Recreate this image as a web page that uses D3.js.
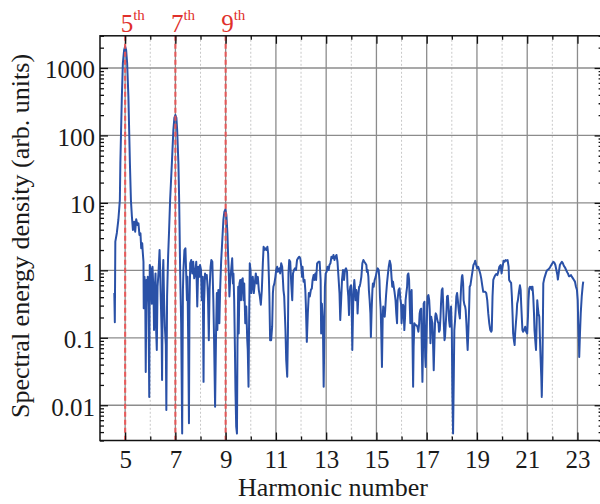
<!DOCTYPE html>
<html>
<head>
<meta charset="utf-8">
<script src="https://cdn.jsdelivr.net/npm/d3@7"></script>
<style>
  html, body { margin: 0; padding: 0; background: #fff; }
  svg { display: block; }
  text { font-family: "Liberation Serif", "Times New Roman", serif; }
</style>
</head>
<body>
<div id="chart"></div>
<script>
// spectrum: harmonic number vs spectral energy density
const harmonic = [
  4.57,4.59,4.61,4.67,4.73,4.79,4.81,4.84,4.87,4.91,
  4.96,5.00,5.04,5.08,5.13,5.16,5.19,5.23,5.27,5.31,
  5.36,5.40,5.44,5.49,5.53,5.57,5.61,5.64,5.68,5.70,
  5.73,5.74,5.77,5.80,5.82,5.85,5.88,5.90,5.93,5.96,
  5.98,6.02,6.06,6.09,6.13,6.15,6.18,6.21,6.23,6.26,
  6.29,6.33,6.37,6.39,6.42,6.45,6.47,6.50,6.52,6.55,
  6.58,6.62,6.64,6.67,6.71,6.75,6.79,6.86,6.92,6.96,
  7.00,7.04,7.07,7.12,7.15,7.17,7.19,7.23,7.27,7.30,
  7.32,7.36,7.40,7.43,7.46,7.48,7.51,7.54,7.56,7.59,
  7.63,7.67,7.71,7.75,7.79,7.83,7.87,7.91,7.95,7.98,
  8.02,8.05,8.09,8.12,8.14,8.18,8.22,8.25,8.28,8.30,
  8.33,8.36,8.40,8.43,8.47,8.51,8.54,8.58,8.62,8.65,
  8.67,8.71,8.75,8.78,8.82,8.86,8.91,8.95,8.99,9.03,
  9.07,9.10,9.13,9.15,9.18,9.22,9.26,9.29,9.31,9.34,
  9.37,9.39,9.42,9.45,9.47,9.50,9.52,9.55,9.58,9.61,
  9.64,9.68,9.71,9.74,9.78,9.82,9.86,9.88,9.91,9.93,
  9.96,9.99,10.02,10.05,10.08,10.12,10.16,10.20,10.24,10.28,
  10.32,10.36,10.40,10.44,10.48,10.51,10.54,10.58,10.62,10.66,
  10.69,10.72,10.74,10.77,10.81,10.85,10.88,10.90,10.94,10.98,
  11.01,11.05,11.08,11.12,11.14,11.17,11.21,11.25,11.28,11.30,
  11.33,11.36,11.38,11.41,11.45,11.48,11.50,11.53,11.57,11.61,
  11.65,11.68,11.72,11.76,11.80,11.84,11.88,11.93,11.97,12.01,
  12.04,12.06,12.10,12.14,12.17,12.19,12.23,12.27,12.31,12.35,
  12.39,12.43,12.46,12.50,12.53,12.57,12.60,12.64,12.70,12.74,
  12.78,12.80,12.83,12.87,12.90,12.92,12.95,12.98,13.02,13.05,
  13.10,13.13,13.17,13.21,13.25,13.29,13.33,13.37,13.41,13.45,
  13.49,13.53,13.56,13.59,13.63,13.67,13.71,13.75,13.79,13.83,
  13.85,13.88,13.91,13.93,13.96,13.99,14.01,14.04,14.07,14.09,
  14.12,14.15,14.17,14.20,14.23,14.25,14.28,14.31,14.33,14.36,
  14.40,14.44,14.48,14.52,14.56,14.60,14.62,14.65,14.68,14.70,
  14.73,14.76,14.78,14.81,14.84,14.86,14.89,14.93,14.97,15.01,
  15.05,15.09,15.12,15.14,15.17,15.19,15.22,15.25,15.27,15.30,
  15.33,15.35,15.38,15.42,15.46,15.49,15.53,15.57,15.60,15.63,
  15.66,15.68,15.72,15.76,15.79,15.82,15.84,15.88,15.92,15.95,
  15.98,16.00,16.03,16.06,16.08,16.11,16.14,16.16,16.19,16.22,
  16.24,16.27,16.30,16.32,16.35,16.38,16.40,16.43,16.46,16.48,
  16.51,16.55,16.59,16.63,16.67,16.70,16.72,16.75,16.78,16.80,
  16.83,16.86,16.88,16.91,16.94,16.96,16.99,17.02,17.04,17.07,
  17.10,17.12,17.15,17.18,17.20,17.23,17.26,17.28,17.31,17.34,
  17.36,17.39,17.41,17.44,17.47,17.49,17.52,17.55,17.57,17.60,
  17.63,17.65,17.68,17.71,17.73,17.76,17.79,17.81,17.84,17.87,
  17.89,17.92,17.94,17.97,18.00,18.02,18.05,18.08,18.10,18.13,
  18.16,18.18,18.21,18.24,18.26,18.29,18.32,18.34,18.37,18.40,
  18.42,18.45,18.47,18.50,18.53,18.55,18.58,18.61,18.63,18.66,
  18.69,18.71,18.74,18.78,18.82,18.86,18.90,18.93,18.97,19.01,
  19.05,19.09,19.13,19.17,19.21,19.25,19.29,19.33,19.37,19.41,
  19.45,19.49,19.53,19.57,19.59,19.62,19.65,19.69,19.73,19.77,
  19.81,19.85,19.89,19.94,19.98,20.02,20.06,20.10,20.14,20.18,
  20.22,20.26,20.28,20.32,20.36,20.39,20.42,20.44,20.47,20.50,
  20.52,20.55,20.58,20.60,20.63,20.67,20.71,20.74,20.76,20.79,
  20.81,20.84,20.88,20.92,20.96,21.00,21.03,21.05,21.08,21.11,
  21.13,21.16,21.19,21.21,21.24,21.27,21.29,21.32,21.35,21.37,
  21.40,21.42,21.45,21.48,21.50,21.53,21.56,21.58,21.61,21.64,
  21.68,21.72,21.76,21.80,21.84,21.88,21.92,21.96,22.00,22.04,
  22.08,22.12,22.16,22.20,22.22,22.26,22.30,22.34,22.38,22.42,
  22.46,22.50,22.54,22.58,22.62,22.66,22.70,22.74,22.78,22.82,
  22.86,22.90,22.94,22.98,23.01,23.03,23.06,23.07,23.10,23.13,
  23.17,23.21,23.23
];

const energy = [
  0.46,0.17,2.66,3.58,5.58,11.0,38.7,121,377,1178,
  1850,2080,1850,1180,377,121,38.7,11.0,6.24,3.96,
  5.26,3.74,5.71,4.70,4.98,3.34,3.54,2.12,2.52,1.89,
  1.34,0.273,0.80,0.51,0.031,0.72,0.36,0.80,0.29,0.0133,
  1.20,1.01,0.32,1.13,0.46,0.13,0.51,0.90,0.146,0.066,
  0.57,0.95,2.00,1.13,0.36,0.13,0.0236,0.90,1.42,0.36,
  0.146,0.078,0.0085,0.41,1.59,3.96,11.0,38.7,121,182,
  201,182,121,38.7,11.0,3.34,0.90,0.165,0.0038,0.51,
  1.01,2.00,2.12,0.90,0.36,0.80,0.092,0.0054,0.29,1.27,
  1.42,0.90,1.34,0.76,0.90,1.34,0.29,1.13,0.80,1.20,
  1.01,0.36,0.80,0.0222,0.32,0.90,0.76,0.85,0.57,0.36,
  0.092,0.51,1.13,1.42,1.34,0.36,0.092,0.0095,0.13,0.46,
  0.13,0.51,0.164,0.51,1.34,2.52,5.58,7.40,8.04,6.61,
  3.54,1.59,0.80,0.41,0.72,1.01,1.51,0.64,0.90,0.36,
  0.066,0.0168,0.0048,0.0038,0.073,0.57,0.116,0.64,0.72,0.36,
  0.72,0.76,0.36,0.64,0.164,0.29,0.092,0.066,0.0188,0.13,
  1.27,1.01,0.46,0.64,0.80,0.46,0.64,0.90,0.64,0.80,
  0.51,0.41,0.31,0.51,1.27,2.24,2.00,2.12,2.00,2.24,
  1.79,0.80,0.41,0.092,0.092,0.146,0.46,0.57,0.64,0.80,
  1.01,1.13,0.95,1.01,1.07,0.90,1.27,1.13,0.72,0.51,
  0.41,0.205,0.13,0.047,0.0264,0.13,0.90,1.42,1.34,0.64,
  0.36,0.90,1.01,1.07,1.01,1.42,1.51,1.59,1.51,1.13,
  0.80,1.13,0.68,0.72,0.51,0.32,0.087,0.23,0.46,0.41,
  0.51,0.54,0.72,0.85,0.72,0.90,0.72,1.27,1.34,1.34,
  0.72,0.116,0.32,0.164,0.0188,0.066,0.57,0.90,0.95,1.13,
  1.01,1.20,1.27,1.59,1.51,1.69,1.42,1.59,1.69,1.34,
  0.80,0.46,0.183,0.32,0.72,1.01,0.72,1.01,1.07,0.95,
  0.57,0.41,0.217,0.46,0.57,0.60,0.41,0.066,0.258,0.51,
  0.72,0.51,0.36,0.51,0.41,0.23,0.41,0.57,0.57,0.64,
  0.80,1.27,1.42,1.34,1.27,1.20,0.95,1.01,0.80,0.51,
  0.36,0.23,0.103,0.26,0.51,0.64,0.57,0.72,0.80,0.95,
  1.07,1.01,0.72,0.41,0.26,0.13,0.037,0.205,0.29,0.23,
  0.205,0.26,0.41,0.64,0.90,1.13,1.39,1.20,0.80,0.57,
  0.68,0.60,0.48,0.36,0.23,0.164,0.36,0.51,0.54,0.38,
  0.32,0.164,0.23,0.31,0.29,0.13,0.205,0.36,0.46,0.57,
  0.85,0.90,0.72,0.36,0.164,0.46,0.51,0.13,0.0188,0.073,
  0.164,0.154,0.154,0.146,0.123,0.164,0.23,0.26,0.27,0.092,
  0.0222,0.092,0.32,0.342,0.052,0.037,0.092,0.29,0.41,0.43,
  0.36,0.26,0.083,0.205,0.183,0.164,0.066,0.033,0.092,0.205,
  0.23,0.217,0.194,0.173,0.164,0.123,0.13,0.205,0.32,0.51,
  0.54,0.36,0.164,0.092,0.103,0.164,0.26,0.41,0.42,0.29,
  0.183,0.146,0.205,0.29,0.13,0.0168,0.0038,0.0296,0.13,0.183,
  0.29,0.41,0.46,0.36,0.29,0.23,0.194,0.32,0.57,0.80,
  0.85,0.64,0.36,0.31,0.29,0.26,0.164,0.092,0.066,0.13,
  0.29,0.57,0.60,0.76,0.95,1.20,1.27,1.39,1.20,1.07,
  1.13,1.01,0.90,0.76,0.60,0.48,0.48,0.48,0.46,0.36,
  0.23,0.164,0.13,0.123,0.13,0.41,0.72,0.79,0.85,0.88,
  0.85,0.95,1.13,1.20,0.90,1.13,1.39,1.34,1.42,1.39,
  1.42,1.13,0.72,0.68,0.65,0.41,0.205,0.116,0.092,0.078,
  0.116,0.164,0.23,0.32,0.36,0.48,0.60,0.51,0.32,0.183,
  0.13,0.123,0.13,0.146,0.123,0.116,0.205,0.36,0.54,0.57,
  0.54,0.57,0.51,0.57,0.41,0.23,0.13,0.092,0.066,0.13,
  0.36,0.29,0.23,0.205,0.116,0.052,0.0264,0.0133,0.052,0.64,
  0.76,0.85,0.95,1.01,1.03,1.07,1.13,1.20,1.27,1.34,
  1.30,1.20,1.01,0.85,0.73,0.95,1.20,1.27,1.34,1.27,
  1.16,1.11,1.03,0.95,0.90,0.82,0.82,0.85,0.80,0.76,
  0.72,0.68,0.57,0.51,0.36,0.164,0.083,0.052,0.116,0.23,
  0.41,0.60,0.68
];

const xTicks = [5, 7, 9, 11, 13, 15, 17, 19, 21, 23];
const xMinorTicks = [6, 8, 10, 12, 14, 16, 18, 20, 22];
const yTicks = [0.01, 0.1, 1, 10, 100, 1000];
const markedHarmonics = [5, 7, 9];
const markedLabels = ["5", "7", "9"];

const width = 600;
const height = 504;
const plotLeft = 100, plotRight = 602.6, plotTop = 35.8, plotBottom = 440.5;

const svg = d3.select("#chart")
  .append("svg")
  .attr("width", width)
  .attr("height", height);

const x = d3.scaleLinear().domain([4, 24]).range([plotLeft, plotRight]);
const y = d3.scaleLog().domain([0.003, 3000]).range([plotBottom, plotTop]);

// grid
svg.append("g")
  .selectAll("line")
  .data(xMinorTicks)
  .join("line")
  .attr("x1", d => x(d)).attr("x2", d => x(d))
  .attr("y1", plotTop).attr("y2", plotBottom)
  .attr("stroke", "#c8c8c8")
  .attr("stroke-width", 1)
  .attr("stroke-dasharray", "2,2");

svg.append("g")
  .selectAll("line")
  .data(xTicks)
  .join("line")
  .attr("x1", d => x(d)).attr("x2", d => x(d))
  .attr("y1", plotTop).attr("y2", plotBottom)
  .attr("stroke", "#8c8c8c")
  .attr("stroke-width", 1.3);

svg.append("g")
  .selectAll("line")
  .data(yTicks)
  .join("line")
  .attr("x1", plotLeft).attr("x2", plotRight)
  .attr("y1", d => y(d)).attr("y2", d => y(d))
  .attr("stroke", "#8c8c8c")
  .attr("stroke-width", 1.3);

// spectrum
svg.append("clipPath").attr("id", "plot-clip")
  .append("rect")
  .attr("x", plotLeft).attr("y", plotTop)
  .attr("width", plotRight - plotLeft).attr("height", plotBottom - plotTop);

const line = d3.line()
  .x(d => x(d[0]))
  .y(d => y(d[1]));

svg.append("path")
  .datum(d3.zip(harmonic, energy))
  .attr("clip-path", "url(#plot-clip)")
  .attr("fill", "none")
  .attr("stroke", "#2a51a7")
  .attr("stroke-width", 2)
  .attr("stroke-linejoin", "round")
  .attr("d", line);

// marked harmonics
svg.append("g")
  .selectAll("line")
  .data(markedHarmonics)
  .join("line")
  .attr("x1", d => x(d)).attr("x2", d => x(d))
  .attr("y1", plotTop).attr("y2", plotBottom)
  .attr("stroke", "#f05050")
  .attr("stroke-opacity", 0.85)
  .attr("stroke-width", 2.2)
  .attr("stroke-dasharray", "5,3");

const labels = svg.append("g")
  .selectAll("text")
  .data(markedHarmonics)
  .join("text")
  .attr("x", d => x(d) - 4.5)
  .attr("y", 32)
  .attr("fill", "#e0302c")
  .attr("font-size", 25);
labels.append("tspan").text((d, i) => markedLabels[i]);
labels.append("tspan").attr("dy", -12).attr("font-size", 15).text("th");

// axes, ticks pointing inward on all four sides
function styleAxis(g) {
  g.select(".domain").remove();
  g.selectAll(".tick line").attr("stroke", "#111").attr("stroke-width", 1.3);
  g.selectAll(".tick text")
    .attr("fill", "#1a1a1a")
    .attr("font-size", 25)
    .attr("font-family", "Liberation Serif, Times New Roman, serif");
}

const minorY = y.ticks().filter(d => Math.abs(Math.log10(d) - Math.round(Math.log10(d))) > 1e-6);

svg.append("g")
  .attr("transform", `translate(0,${plotBottom})`)
  .call(d3.axisBottom(x).tickValues(xTicks).tickSize(-8).tickPadding(10).tickFormat(d3.format("d")))
  .call(styleAxis);
svg.append("g")
  .attr("transform", `translate(0,${plotBottom})`)
  .call(d3.axisBottom(x).tickValues(xMinorTicks).tickSize(-4).tickFormat(""))
  .call(styleAxis);
svg.append("g")
  .attr("transform", `translate(0,${plotTop})`)
  .call(d3.axisTop(x).tickValues(xTicks).tickSize(-8).tickFormat(""))
  .call(styleAxis);
svg.append("g")
  .attr("transform", `translate(0,${plotTop})`)
  .call(d3.axisTop(x).tickValues(xMinorTicks).tickSize(-4).tickFormat(""))
  .call(styleAxis);

svg.append("g")
  .attr("transform", `translate(${plotLeft},0)`)
  .call(d3.axisLeft(y).tickValues(yTicks).tickSize(-8).tickPadding(5).tickFormat(d3.format("~g")))
  .call(styleAxis)
  .call(g => g.selectAll(".tick text").attr("dy", "0.4em"));
svg.append("g")
  .attr("transform", `translate(${plotLeft},0)`)
  .call(d3.axisLeft(y).tickValues(minorY).tickSize(-4).tickFormat(""))
  .call(styleAxis);
svg.append("g")
  .attr("transform", `translate(${plotRight},0)`)
  .call(d3.axisRight(y).tickValues(yTicks).tickSize(-8).tickFormat(""))
  .call(styleAxis);
svg.append("g")
  .attr("transform", `translate(${plotRight},0)`)
  .call(d3.axisRight(y).tickValues(minorY).tickSize(-4).tickFormat(""))
  .call(styleAxis);

// frame
svg.append("rect")
  .attr("x", plotLeft).attr("y", plotTop)
  .attr("width", plotRight - plotLeft).attr("height", plotBottom - plotTop)
  .attr("fill", "none")
  .attr("stroke", "#111")
  .attr("stroke-width", 1.5);

// axis titles
svg.append("text")
  .attr("x", 333)
  .attr("y", 496)
  .attr("text-anchor", "middle")
  .attr("font-size", 26)
  .attr("fill", "#1a1a1a")
  .text("Harmonic number");

svg.append("text")
  .attr("transform", "translate(29,236) rotate(-90)")
  .attr("text-anchor", "middle")
  .attr("font-size", 26)
  .attr("fill", "#1a1a1a")
  .text("Spectral energy density (arb. units)");
</script>
</body>
</html>
